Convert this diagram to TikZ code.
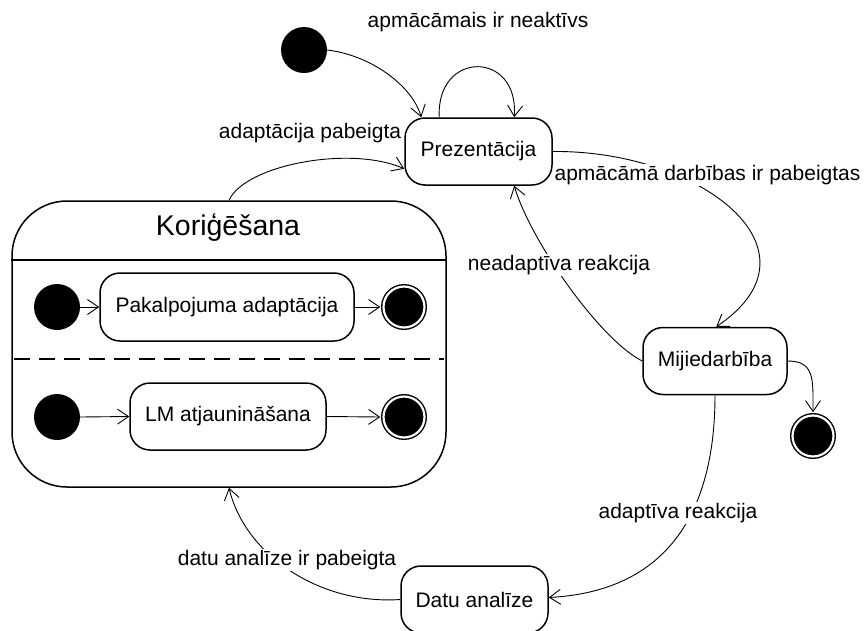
\documentclass[tikz,border=0pt]{standalone}
\usepackage{fontspec}
\setmainfont{Liberation Sans}
\usetikzlibrary{arrows.meta,calc}

\begin{document}
\begin{tikzpicture}[x=1pt,y=-1pt,
  every node/.style={font=\fontsize{21}{25}\selectfont},
  state/.style={draw, line width=1.5pt, rounded corners=20pt, fill=white,
                minimum height=67pt, inner sep=0pt},
  initst/.style={circle, fill=black, minimum size=46pt, inner sep=0pt},
  finalst/.style={circle, draw=black, fill=black, line width=1.4pt,
                  double=white, double distance=2.2pt, minimum size=41pt, inner sep=0pt},
  conn/.style={line width=0.9pt, -{Straight Barb[length=11pt,width=15pt,line width=0.9pt]}},
  lbl/.style={fill=white, inner sep=1pt}
]
\useasboundingbox (0,0) rectangle (865,630);

% top-level states
\node[initst] (i0) at (304,50) {};
\node[state, minimum width=147pt] (pres) at (478.5,151.5) {Prezentācija};
\node[state, minimum width=144pt] (mij) at (715,361) {Mijiedarbība};
\node[finalst] (f0) at (813,436) {};
\node[state, minimum width=147pt] (datu) at (474.5,599.5) {Datu analīze};

% composite state with two orthogonal regions
\node[draw, line width=1.5pt, rounded corners=55pt, minimum width=434pt, minimum height=286pt,
      inner sep=0pt] (kor) at (229,344) {};
\node[font=\fontsize{28.5}{32}\selectfont] (kortitle) at (228,228) {Koriģēšana};
\coordinate (sepA) at (0,260);
\coordinate (sepB) at (0,359);
\draw[line width=1.5pt] (kor.west |- sepA) -- (kor.east |- sepA);
\draw[line width=1.5pt, dash pattern=on 16pt off 9pt] ($(kor.west |- sepB)+(3,0)$) -- ($(kor.east |- sepB)+(-3,0)$);

% region 1
\node[initst] (i1) at (57,307) {};
\node[state, minimum width=254pt, minimum height=68pt] (pak) at (227,307) {Pakalpojuma adaptācija};
\node[finalst] (f1) at (404,307) {};
\draw[conn] (i1.east) -- (pak.west);
\draw[conn] (pak.east) -- ($(f1.west)+(-2.5,0)$);

% region 2
\node[initst] (i2) at (57,417) {};
\node[state, minimum width=196pt] (lm) at (228,416.5) {LM atjaunināšana};
\node[finalst] (f2) at (404,417) {};
\draw[conn] (i2.east) -- (lm.west);
\draw[conn] (lm.east) -- ($(f2.west)+(-2.5,0)$);

% transitions
\draw[conn] (i0.east) .. controls (370,55) and (412,85) .. ($(pres.north west)+(17,0)$);
\draw[conn] ($(pres.north west)+(35,0)$) .. controls (436,50) and (519,50) .. ($(pres.north west)+(110,0)$);
\draw[conn] (kor.north) .. controls (245,165) and (350,145) .. ($(pres.south west)+(0,-17)$);
\draw[conn] (pres.east) .. controls (700,150) and (830,250) .. ($(mij.north west)+(74,0)$);
\draw[conn] (mij.west) .. controls (600,340) and (530,240) .. ($(pres.south west)+(110,0)$);
\draw[conn] (mij.east) .. controls (815,361) and (813,380) .. ($(f0.north)+(0,-2.5)$);
\draw[conn] (mij.south) .. controls (715,480) and (690,590) .. ($(datu.east)+(0,-2)$);
\draw[conn] (datu.west) .. controls (320,605) and (245,555) .. (kor.south);

% transition labels
\node (l0) at (478,22) {apmācāmais ir neaktīvs};
\node[lbl] (l1) at (310,133) {adaptācija pabeigta};
\node[lbl] (l2) at (707.5,175) {apmācāmā darbības ir pabeigtas};
\node[lbl] (l3) at (559,265) {neadaptīva reakcija};
\node[lbl] (l4) at (678,513) {adaptīva reakcija};
\node[lbl] (l5) at (287,560) {datu analīze ir pabeigta};
\end{tikzpicture}
\end{document}
